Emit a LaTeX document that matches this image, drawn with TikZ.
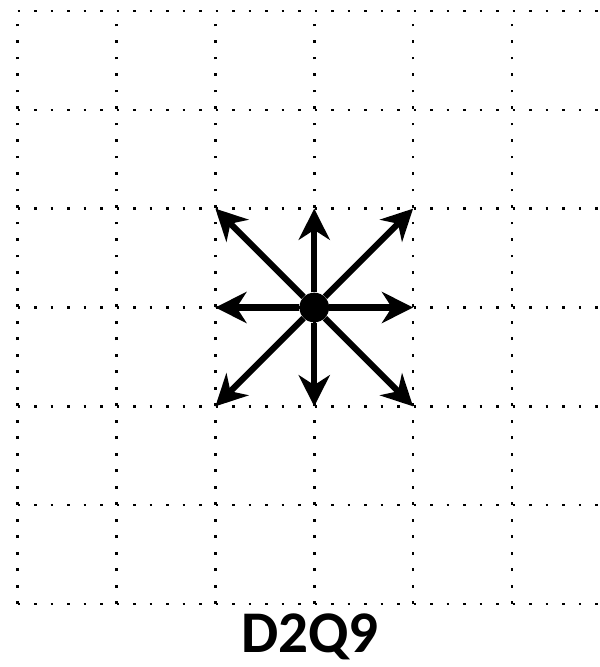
\documentclass[tikz,border=0pt]{standalone}
\usepackage{fontspec}
\setmainfont{Carlito}
\usepackage{tikz}
\usetikzlibrary{arrows.meta}

\begin{document}
\begin{tikzpicture}[x=2cm,y=2cm,
  latt/.style={line width=1.5pt,dash pattern=on 1.5pt off 8pt},
  vec/.style={line width=3.5pt,-{Stealth[length=0.63cm,width=0.63cm,inset=0.2cm]}}]
\useasboundingbox (-0.179,-0.637) rectangle (5.881,6.111);
\draw[latt,step=2cm] (0,0) grid (5.881,6);

\node[circle,fill,inner sep=0pt,minimum size=0.6cm] (c) at (3,3) {};
\coordinate (e1) at (4,3);
\coordinate (e2) at (3,4);
\coordinate (e3) at (2,3);
\coordinate (e4) at (3,2);
\coordinate (e5) at (4,4);
\coordinate (e6) at (2,4);
\coordinate (e7) at (2,2);
\coordinate (e8) at (4,2);

\draw[vec] (c)--(e1);
\draw[vec] (c)--(e2);
\draw[vec] (c)--(e3);
\draw[vec] (c)--(e4);
\draw[vec] (c)--(e5);
\draw[vec] (c)--(e6);
\draw[vec] (c)--(e7);
\draw[vec] (c)--(e8);

\node[anchor=base,inner sep=0pt,font=\bfseries\fontsize{34}{40}\selectfont] (lbl) at (2.957,-0.49) {D2Q9};
\end{tikzpicture}
\end{document}
